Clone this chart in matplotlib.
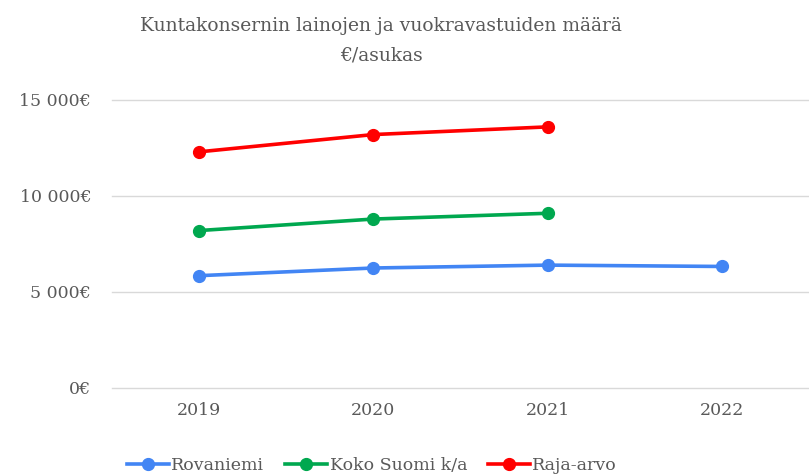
import matplotlib
matplotlib.use("Agg")
import matplotlib.pyplot as plt
from matplotlib.ticker import FuncFormatter

years = ["2019", "2020", "2021", "2022"]
rovaniemi = [5850, 6250, 6400, 6330]
koko_suomi = [8200, 8800, 9100]
raja_arvo = [12300, 13200, 13600]

text_col = "#595959"
plt.rcParams["font.family"] = ["DejaVu Serif"]

fig = plt.figure(figsize=(8.09, 4.75), dpi=100)
ax = fig.add_axes([112 / 809, 87 / 475, 1 - 112 / 809, 288 / 475])

x = list(range(len(years)))
ax.plot(x, rovaniemi, color="#4285F4", lw=2.6, marker="o", ms=8.5, label="Rovaniemi", zorder=3)
ax.plot(x[:len(koko_suomi)], koko_suomi, color="#00A84F", lw=2.6, marker="o", ms=8.5,
        label="Koko Suomi k/a", zorder=3)
ax.plot(x[:len(raja_arvo)], raja_arvo, color="#FF0000", lw=2.6, marker="o", ms=8.5,
        label="Raja-arvo", zorder=3)

ax.set_xlim(-0.5, 3.5)
ax.set_ylim(0, 15000)
ax.set_yticks([0, 5000, 10000, 15000])
ax.yaxis.set_major_formatter(FuncFormatter(lambda v, p: "{:,.0f}€".format(v).replace(",", " ")))
ax.set_xticks(x)
ax.set_xticklabels(years)
ax.grid(axis="y", color="#d9d9d9", lw=1)
for gl in ax.get_ygridlines():
    gl.set_clip_on(False)
ax.set_axisbelow(True)
for s in ax.spines.values():
    s.set_visible(False)
ax.tick_params(axis="both", length=0, labelsize=12.5, colors=text_col)
ax.tick_params(axis="y", pad=15)
ax.tick_params(axis="x", pad=10)

fig.text(381 / 809, 0.914, "Kuntakonsernin lainojen ja vuokravastuiden määrä\n€/asukas",
         ha="center", va="center", fontsize=13.5, color=text_col, linespacing=1.85)

leg = fig.legend(loc="lower center", bbox_to_anchor=(372 / 809, -0.03), ncol=3, frameon=False,
                 fontsize=12.5, handlelength=2.4, handletextpad=0.15, columnspacing=1.2)
for t in leg.get_texts():
    t.set_color(text_col)

fig.savefig("out.png", dpi=100)
